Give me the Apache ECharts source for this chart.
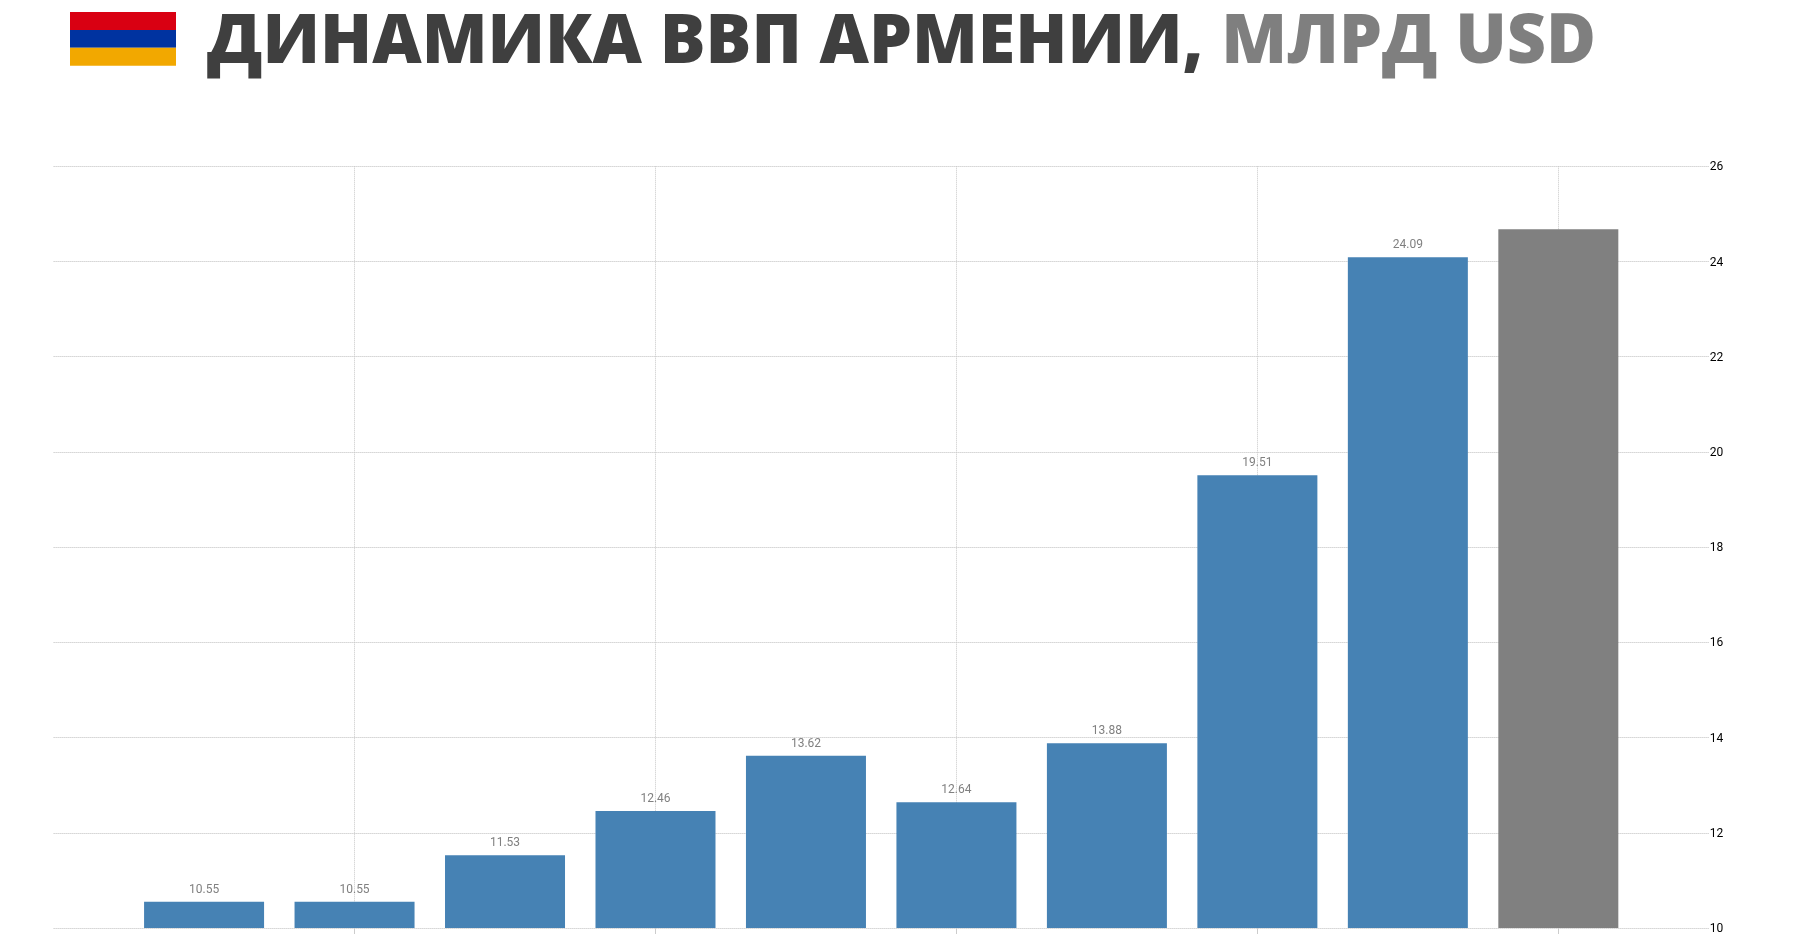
<!DOCTYPE html>
<html><head><meta charset="utf-8">
<style>html,body{margin:0;padding:0;background:#fff}#c{width:1800px;height:934px}</style>
<script src="https://cdn.jsdelivr.net/npm/echarts@6/dist/echarts.min.js"></script>
</head><body><div id="c"></div>
<script>
const categories = ['', '2015', '2016', '2017', '2018', '2019', '2020', '2021', '2022', '2023', '2024', ''];
const actualValues = [null, 10.55, 10.55, 11.53, 12.46, 13.62, 12.64, 13.88, 19.51, 24.09, null, null];
const forecastValues = [null, null, null, null, null, null, null, null, null, null, 24.68, null];
const titleMain = 'ДИНАМИКА ВВП АРМЕНИИ, ';
const titleUnit = 'МЛРД USD';
const flagColors = ['#d90012', '#0033a0', '#f2a800'];

const chart = echarts.init(document.getElementById('c'), null, {renderer: 'canvas'});
const everyOther = (i) => i > 0 && i % 2 === 0 && i < categories.length - 1;
const flag = flagColors.map((c, i) => ({
  type: 'rect', silent: true,
  shape: {x: 70, y: 12 + i * 17.9, width: 106, height: 17.9},
  style: {fill: c}
}));
chart.setOption({
  backgroundColor: '#ffffff',
  animation: false,
  graphic: flag.concat([{
    type: 'text', silent: true, x: 207, y: 8, scaleX: 0.946, scaleY: 0.97,
    style: {
      text: '{a|' + titleMain + '}{b|' + titleUnit + '}',
      rich: {
        a: {fontFamily: 'Open Sans', fontWeight: 800, fontSize: 72, fill: '#3f3f3f'},
        b: {fontFamily: 'Open Sans', fontWeight: 800, fontSize: 72, fill: '#7f7f7f'}
      }
    }
  }]),
  grid: {left: 53.6, right: 91.2, top: 166.3, bottom: 6, containLabel: false, outerBoundsMode: 'none'},
  xAxis: {
    type: 'category', data: categories, boundaryGap: false,
    axisLine: {show: false},
    axisLabel: {show: false},
    axisTick: {show: true, interval: everyOther, length: 7, lineStyle: {color: '#cccccc', width: 1}},
    splitLine: {show: true, interval: everyOther, lineStyle: {color: '#c8c8c8', width: 1, type: 'dotted'}}
  },
  yAxis: {
    type: 'value', position: 'right', min: 10, max: 26, interval: 2,
    axisLine: {show: false}, axisTick: {show: false},
    axisLabel: {
      margin: 1, formatter: '{l|{value}}',
      rich: {l: {color: '#000000', fontFamily: 'Roboto', fontSize: 12, padding: [2, 0, 0, 0]}}
    },
    splitLine: {show: true, lineStyle: {color: '#bdbdbd', width: 1, type: 'dotted'}}
  },
  series: [
    {
      type: 'bar', name: 'Факт', data: actualValues, barWidth: 120, barGap: '-100%',
      itemStyle: {color: '#4682b4'},
      label: {show: true, position: 'top', distance: 6, color: '#808080', fontFamily: 'Roboto', fontSize: 12,
        formatter: (p) => p.value.toFixed(2)}
    },
    {
      type: 'bar', name: 'Оценка', data: forecastValues, barWidth: 120,
      itemStyle: {color: '#808080'}
    }
  ]
});
</script></body></html>
